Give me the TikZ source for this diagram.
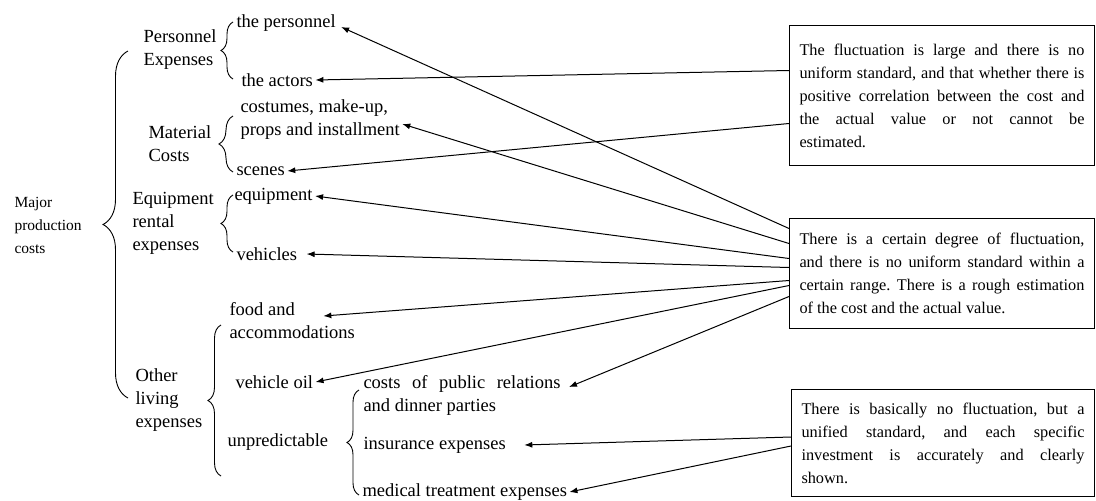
\documentclass[tikz,border=0pt]{standalone}
\usepackage{fontspec}
\setmainfont{Liberation Serif}
\usetikzlibrary{arrows.meta,decorations.pathreplacing}
\frenchspacing
\def\lblfont{\fontsize{18.5}{23}\selectfont}
\def\boxfont{\fontsize{16.3}{23}\selectfont\hyphenpenalty=10000}
\def\majorfont{\fontsize{15.5}{23}\selectfont}

\begin{document}
\begin{tikzpicture}[x=1pt,y=-1pt,line width=1pt,
        lbl/.style={font=\lblfont,anchor=west,inner sep=2pt,align=left},
        remark/.style={draw,font=\boxfont,anchor=north west,text width=285pt,
            inner xsep=10pt,align=justify,minimum height=#1},
        brc/.style={decorate,decoration={brace,amplitude=#1},line width=0.9pt},
        >={Latex[length=8pt,width=6pt]}]
            \useasboundingbox (0,0) rectangle (1096,501);
            % left column
            \node[lbl,font=\majorfont] (major) at (12,225) {Major\\production\\costs};
            \draw[brc=25] (128,398) -- (128,51);
            \node[lbl] (persx) at (141,50) {Personnel\\Expenses};
            \node[lbl] (matc)  at (146,144) {Material\\Costs};
            \node[lbl] (equip) at (130,223) {Equipment\\rental\\expenses};
            \node[lbl] (other) at (133,400) {Other\\living\\expenses};
            % second level
            \draw[brc=12] (233,79) -- (233,22);
            \draw[brc=14] (233,172) -- (233,116);
            \draw[brc=12] (233,252) -- (233,195);
            \draw[brc=13] (221,476) -- (221,325);
            \node[lbl] (pers)    at (234,23)  {the personnel};
            \node[lbl] (actors)  at (239,80)  {the actors};
            \node[lbl] (costume) at (238,120) {costumes, make-up,\\props and installment};
            \node[lbl] (scenes)  at (234,171) {scenes};
            \node[lbl] (eqp)     at (232,196) {equipment};
            \node[lbl] (veh)     at (234,254) {vehicles};
            \node[lbl] (food)    at (227,321) {food and\\accommodations};
            \node[lbl] (oil)     at (233,382) {vehicle oil};
            \node[lbl] (unpred)  at (225,442) {unpredictable};
            % third level
            \draw[brc=12] (359,495) -- (359,390);
            \node[lbl,text width=197pt,align=justify] (pr) at (361,395)
                {costs of public relations and dinner parties};
            \node[lbl] (ins) at (361,445) {insurance expenses};
            \node[lbl] (med) at (360,492) {medical treatment expenses};
            % remarks
            \node[remark=140pt] (b1) at (789,25) {The fluctuation is large and there is no\linebreak
                uniform standard, and that whether there is\linebreak positive correlation
                between the cost and\linebreak the actual value or not cannot be\linebreak
                estimated.};
            \node[remark=110pt] (b2) at (789,218) {There is a certain degree of fluctuation,\linebreak
                and there is no uniform standard within a\linebreak certain range. There is
                a rough estimation\linebreak of the cost and the actual value.};
            \node[remark=107pt,text width=283pt] (b3) at (791,389) {There is basically no
                fluctuation, but a\linebreak unified standard, and each specific\linebreak
                investment is accurately and clearly\linebreak shown.};
            % connectors
            \draw[->] ([yshift=25pt]b1.west) -- (actors.east);
            \draw[->] ([yshift=-28pt]b1.west) -- (scenes.east);
            \draw[->] ([yshift=45pt]b2.west) -- ([xshift=3pt,yshift=-4pt]pers.east);
            \draw[->] ([yshift=30pt]b2.west) -- ([yshift=-4pt]costume.east);
            \draw[->] ([yshift=15pt]b2.west) -- (eqp.east);
            \draw[->] ([yshift=6pt]b2.west) -- ([xshift=7pt]veh.east);
            \draw[->] ([yshift=-7pt]b2.west) -- ([xshift=-34pt,yshift=5pt]food.east);
            \draw[->] ([yshift=-12pt]b2.west) -- (oil.east);
            \draw[->] ([yshift=-23pt]b2.west) -- ([xshift=6pt,yshift=8pt]pr.east);
            \draw[->] ([yshift=6pt]b3.west) -- ([xshift=16pt]ins.east);
            \draw[->] ([yshift=-3pt]b3.west) -- (med.east);
        \end{tikzpicture}
\end{document}
